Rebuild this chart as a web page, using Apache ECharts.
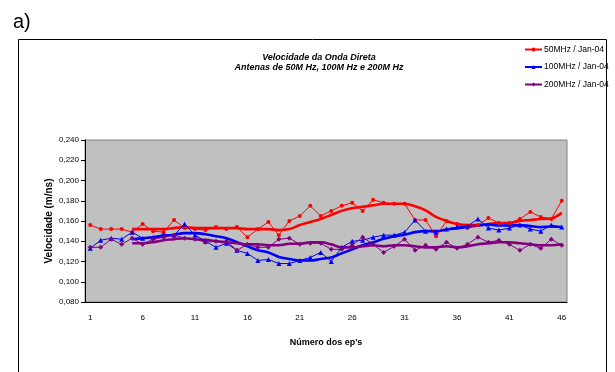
<!DOCTYPE html>
<html>
<head>
<meta charset="utf-8">
<script src="https://cdn.jsdelivr.net/npm/echarts@6/dist/echarts.min.js"></script>
<style>
  html, body { margin: 0; padding: 0; background: #ffffff; }
  #chart { width: 615px; height: 372px; }
</style>
</head>
<body>
<div id="chart"></div>
<script>
// Episode numbers along the x axis
var episodes = [];
for (var n = 1; n <= 46; n++) episodes.push(String(n));

// Direct-wave velocity (m/ns) measured per episode
var v50 = [0.156, 0.152, 0.152, 0.152, 0.149, 0.157, 0.150, 0.149, 0.161, 0.153,
           0.152, 0.151, 0.154, 0.152, 0.154, 0.144, 0.152, 0.159, 0.146, 0.160,
           0.165, 0.175, 0.165, 0.170, 0.175, 0.178, 0.170, 0.181, 0.178, 0.177,
           0.177, 0.161, 0.161, 0.145, 0.160, 0.157, 0.153, 0.156, 0.163, 0.158,
           0.158, 0.162, 0.169, 0.164, 0.162, 0.180];
var v100 = [0.133, 0.141, 0.143, 0.142, 0.149, 0.143, 0.144, 0.147, 0.146, 0.157,
            0.146, 0.140, 0.134, 0.138, 0.131, 0.128, 0.121, 0.122, 0.118, 0.118,
            0.121, 0.124, 0.129, 0.120, 0.134, 0.140, 0.141, 0.144, 0.146, 0.146,
            0.149, 0.161, 0.150, 0.149, 0.152, 0.154, 0.155, 0.162, 0.153, 0.151,
            0.153, 0.156, 0.152, 0.150, 0.156, 0.154];
var v200 = [0.134, 0.134, 0.142, 0.137, 0.143, 0.137, 0.142, 0.144, 0.146, 0.143,
            0.142, 0.139, 0.140, 0.140, 0.131, 0.137, 0.134, 0.134, 0.142, 0.143,
            0.137, 0.138, 0.138, 0.132, 0.132, 0.136, 0.144, 0.137, 0.129, 0.135,
            0.142, 0.131, 0.136, 0.132, 0.139, 0.133, 0.137, 0.144, 0.139, 0.141,
            0.137, 0.131, 0.137, 0.133, 0.142, 0.136];

// Moving-average trend lines (start at episode 5)
var t50 = [null, null, null, null, 0.152, 0.152, 0.152, 0.152, 0.153, 0.154,
           0.153, 0.153, 0.153, 0.153, 0.153, 0.152, 0.152, 0.152, 0.151, 0.152,
           0.156, 0.159, 0.162, 0.166, 0.170, 0.1725, 0.174, 0.1755, 0.177, 0.177,
           0.177, 0.1745, 0.1705, 0.164, 0.160, 0.157, 0.156, 0.156, 0.157, 0.158,
           0.158, 0.160, 0.161, 0.162, 0.1625, 0.168];
var t100 = [null, null, null, null, 0.142, 0.143, 0.144, 0.145, 0.1465, 0.148,
            0.148, 0.147, 0.145, 0.143, 0.139, 0.135, 0.131, 0.129, 0.1245, 0.1225,
            0.121, 0.121, 0.1225, 0.124, 0.128, 0.132, 0.136, 0.139, 0.1425, 0.145,
            0.1465, 0.149, 0.150, 0.150, 0.1515, 0.153, 0.154, 0.1555, 0.1565, 0.1555,
            0.1555, 0.156, 0.155, 0.154, 0.1545, 0.154];
var t200 = [null, null, null, null, 0.138, 0.138, 0.139, 0.141, 0.142, 0.143,
            0.142, 0.1415, 0.140, 0.139, 0.138, 0.137, 0.137, 0.136, 0.136, 0.1375,
            0.1375, 0.139, 0.139, 0.137, 0.134, 0.134, 0.135, 0.136, 0.135, 0.136,
            0.136, 0.135, 0.134, 0.134, 0.135, 0.134, 0.135, 0.137, 0.138, 0.139,
            0.139, 0.138, 0.137, 0.136, 0.136, 0.137];

var names = ['50MHz / Jan-04', '100MHz / Jan-04', '200MHz / Jan-04'];
var colors = ['#ff0000', '#0000ff', '#800080'];

var FONT = 'Arial, "Liberation Sans", sans-serif';

function rawSeries(name, data, color, symbol, size) {
  return {
    name: name, type: 'line', data: data, z: 3,
    symbol: symbol, symbolSize: size,
    itemStyle: { color: color },
    lineStyle: { color: color, width: 1 },
    emphasis: { disabled: true }
  };
}
function trendSeries(name, data, color) {
  return {
    name: name, type: 'line', data: data, z: 2,
    smooth: 0.35, symbol: 'none', connectNulls: false,
    lineStyle: { color: color, width: 2.6 },
    emphasis: { disabled: true }
  };
}

var chart = echarts.init(document.getElementById('chart'), null, { renderer: 'canvas' });
chart.setOption({
  animation: false,
  backgroundColor: '#ffffff',
  graphic: [
    { type: 'rect', shape: { x: 18.5, y: 39.5, width: 588, height: 340 },
      style: { fill: 'none', stroke: '#000000', lineWidth: 1 }, z: 0 },
    { type: 'text', left: 13, top: 12,
      style: { text: 'a)', font: '20px ' + FONT, fill: '#000000' } }
  ],
  title: {
    text: 'Velocidade da Onda Direta\nAntenas de 50M Hz, 100M Hz e 200M Hz',
    left: 314, top: 47, textAlign: 'center',
    textStyle: { fontFamily: FONT, fontSize: 9, fontWeight: 'bold', fontStyle: 'italic',
                 color: '#000000', lineHeight: 10.5 }
  },
  legend: {
    data: names, orient: 'vertical', left: 519, top: 40,
    itemWidth: 17, itemHeight: 5, itemGap: 8.5,
    textStyle: { fontFamily: FONT, fontSize: 8.5, color: '#000000', padding: [0, 0, 0, -3] }
  },
  grid: {
    left: 85, right: 48, top: 140, bottom: 70,
    show: true, backgroundColor: '#c0c0c0', borderColor: '#808080', borderWidth: 1
  },
  xAxis: {
    type: 'category', data: episodes, boundaryGap: true,
    name: 'Número dos ep\'s', nameLocation: 'middle', nameGap: 36,
    nameTextStyle: { fontFamily: FONT, fontSize: 9, fontWeight: 'bold', color: '#000000' },
    axisLine: { lineStyle: { color: '#000000', width: 1 } },
    axisTick: { interval: 4, length: 4, lineStyle: { color: '#000000' } },
    axisLabel: { interval: 4, fontFamily: FONT, fontSize: 8, color: '#000000', margin: 12 },
    splitLine: { show: false }
  },
  yAxis: {
    type: 'value', min: 0.08, max: 0.24, interval: 0.02,
    name: 'Velocidade (m/ns)', nameLocation: 'middle', nameGap: 31, nameRotate: 90,
    nameMoveOverlap: false,
    nameTextStyle: { fontFamily: FONT, fontSize: 10, fontWeight: 'bold', color: '#000000' },
    axisLine: { show: true, lineStyle: { color: '#000000', width: 1 } },
    axisTick: { show: true, length: 4, lineStyle: { color: '#000000' } },
    axisLabel: {
      fontFamily: FONT, fontSize: 8, color: '#000000', margin: 6,
      formatter: function (v) { return v.toFixed(3).replace('.', ','); }
    },
    splitLine: { show: false }
  },
  series: [
    trendSeries('50MHz média', t50, colors[0]),
    trendSeries('100MHz média', t100, colors[1]),
    trendSeries('200MHz média', t200, colors[2]),
    rawSeries(names[0], v50, colors[0], 'circle', 4),
    rawSeries(names[1], v100, colors[1], 'triangle', 5),
    rawSeries(names[2], v200, colors[2], 'diamond', 5)
  ]
});
</script>
</body>
</html>
